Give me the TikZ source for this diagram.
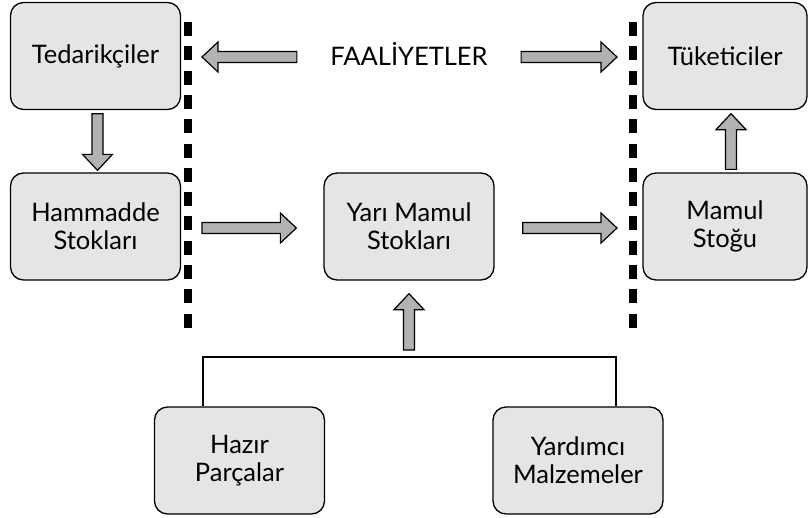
\documentclass[tikz,border=0pt]{standalone}
\usepackage{fontspec}
\setmainfont{Lato}
\usetikzlibrary{calc,positioning}
\definecolor{boxgray}{gray}{0.9}
\definecolor{arrowgray}{gray}{0.7}
\tikzset{%
	stock/.style   = {draw, line width=1.3pt, fill=boxgray, rounded corners=13pt, minimum width=170pt, minimum height=107pt, align=center, font=\fontsize{25.5}{28}\selectfont},
	narrow/.style  = {minimum width=164pt}, % boxes at the right edge
	label/.style   = {font=\fontsize{25.5}{28}\selectfont}, % title
	divider/.style = {line width=8pt, dash pattern=on 14pt off 10.3pt},
	feed/.style    = {line width=2.6pt}, % bracket of the parts
}
% block arrow from #1 to #2
\newcommand{\fatarrow}[2]{%
	\path[draw, line width=1.2pt, fill=arrowgray, line join=miter]
	let \p1=#1, \p2=#2, \n1={atan2(\y2-\y1,\x2-\x1)}, \n2={veclen(\x2-\x1,\y2-\y1)} in
	[shift={(\p1)}, rotate=\n1]
	(0pt,-5.5pt) -- (\n2-16pt,-5.5pt) -- (\n2-16pt,-15pt) -- (\n2,0pt) -- (\n2-16pt,15pt) -- (\n2-16pt,5.5pt) -- (0pt,5.5pt) -- cycle;}

\begin{document}
\begin{tikzpicture}[x=1pt, y=-1pt]
	\useasboundingbox (0,0) rectangle (808,517);
	\node[stock] (ted) at (95.5,56) {Tedarikçiler};
	\node[stock,narrow] (tuk) at (725,56) {Tüketiciler};
	\node[stock] (ham) at (95.5,226.5) {Hammadde\\Stokları};
	\node[stock] (yari) at (409,226.5) {Yarı Mamul\\Stokları};
	\node[stock,narrow] (mam) at (725,226.5) {Mamul\\Stoğu};
	\node[stock] (haz) at (239.5,460.5) {Hazır\\Parçalar};
	\node[stock] (yard) at (578,460.5) {Yardımcı\\Malzemeler};
	\node[label] (fa) at (409,54) {FAALİYETLER};
	
	\coordinate (dlt) at (187.5,22);
	\coordinate (dlb) at (187.5,330);
	\coordinate (drt) at (632.5,22);
	\coordinate (drb) at (632.5,330);
	\coordinate (bl) at (203,357);
	\coordinate (br) at (616,357);
	
	\draw[divider] (dlt) -- (dlb);
	\draw[divider] (drt) -- (drb);
	\draw[feed] (haz.north -| bl) -- (bl) -- (br) -- (yard.north -| br);
	
	\fatarrow{($(fa.west)+(-30,3)$)}{($(dlt |- fa)+(14.5,3)$)}
	\fatarrow{($(fa.east)+(30,3)$)}{($(drt |- fa)+(-15.5,3)$)}
	\fatarrow{($(ted.south)+(2,3.5)$)}{($(ham.north)+(2,-2)$)}
	\fatarrow{($(mam.north)+(6,-3)$)}{($(tuk.south)+(6,3.5)$)}
	\fatarrow{($(dlt |- ham)+(14.5,1.5)$)}{($(yari.west)+(-27,1.5)$)}
	\fatarrow{($(yari.east)+(28,1.5)$)}{($(drt |- mam)+(-15.5,1.5)$)}
	\fatarrow{($(yari.south |- bl)+(0,-7)$)}{($(yari.south)+(0,13)$)}
\end{tikzpicture}
\end{document}
